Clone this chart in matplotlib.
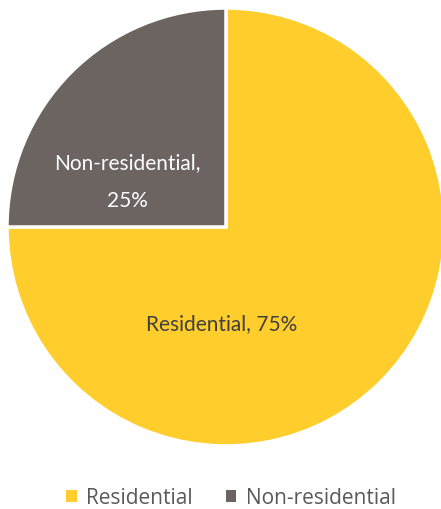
import matplotlib
matplotlib.use('Agg')
import matplotlib.pyplot as plt
from matplotlib.patches import Patch

labels = ['Residential', 'Non-residential']
shares = [75, 25]
colors = ['#FFCD2C', '#6B6461']
text_colors = ['#404040', '#FFFFFF']
label_pos = [(-0.02, -0.44), (-0.45, 0.21)]
label_text = ['Residential, 75%', 'Non-residential,\n25%']

fig = plt.figure(figsize=(4.41, 5.10), dpi=100)
ax = fig.add_axes([0.0159, 0.1235, 0.993, 0.859])
ax.pie(shares, colors=colors, startangle=90, counterclock=False,
       wedgeprops=dict(edgecolor='white', linewidth=2.5))
ax.set_xlim(-1, 1)
ax.set_ylim(-1, 1)
ax.set_aspect('equal')

for (x, y), t, c in zip(label_pos, label_text, text_colors):
    ax.text(x, y, t, ha='center', va='center', color=c,
            fontsize=15, family='Lato', linespacing=2.1)

handles = [Patch(facecolor=c, edgecolor='none') for c in colors]
fig.legend(handles, labels, loc='center', bbox_to_anchor=(0.524, 0.022),
           ncol=2, frameon=False, handlelength=0.5, handleheight=0.5,
           handletextpad=0.45, columnspacing=1.6,
           prop=dict(family='Open Sans', size=15), labelcolor='#595959')

fig.savefig('out.png', dpi=100)
